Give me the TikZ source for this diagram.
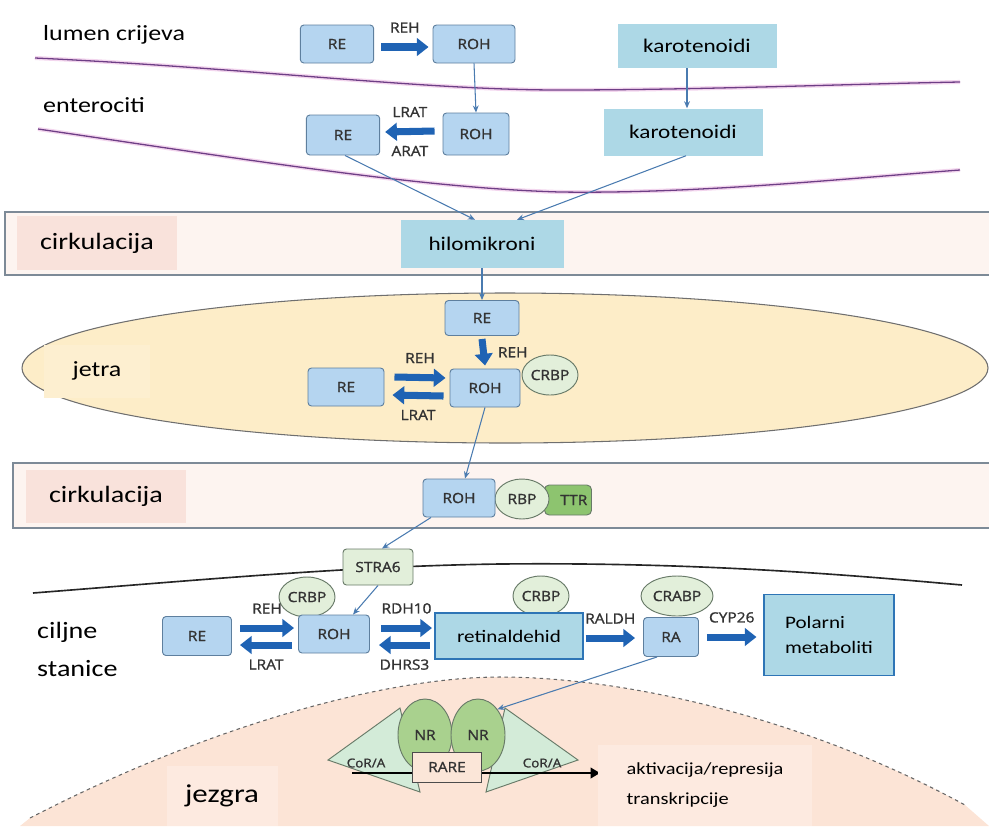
\documentclass[tikz,border=0pt]{standalone}
\usepackage{fontspec}
\setmainfont{Carlito}[FakeStretch=1.2]
\newfontfamily\tagfont{Open Sans}[FakeStretch=1.1, FakeBold=1.3]
\usepackage{tikz}
\usetikzlibrary{calc,positioning,shapes.geometric,arrows.meta}
\definecolor{gutline}{HTML}{6E3E86}
\definecolor{gutglow}{HTML}{F3D6EE}
\definecolor{boxfill}{HTML}{B5D5F0}
\definecolor{boxline}{HTML}{5E7F9E}
\definecolor{infofill}{HTML}{ADD8E6}
\definecolor{infoline}{HTML}{2E75B6}
\definecolor{fatblue}{HTML}{1F63B4}
\definecolor{linkblue}{HTML}{4A7BB0}
\definecolor{tagtext}{HTML}{333333}
\definecolor{protfill}{HTML}{E2EFDA}
\definecolor{protline}{HTML}{687A68}
\definecolor{ttrfill}{HTML}{8DC46F}
\definecolor{bandfill}{HTML}{FDF4F0}
\definecolor{bandline}{HTML}{7D8A97}
\definecolor{bandlbl}{HTML}{F9E2DB}
\definecolor{liverfill}{HTML}{FDEDC8}
\definecolor{liverlbl}{HTML}{FDEFD0}
\definecolor{liverline}{HTML}{6F6F6F}
\definecolor{nucfill}{HTML}{FCE4D6}
\definecolor{nuclbl}{HTML}{FDEAE0}
\definecolor{nrfill}{HTML}{A9D18E}
\definecolor{corfill}{HTML}{D3EBD8}
\definecolor{rarefill}{HTML}{FBE6D8}
\tikzstyle{RetBox} = [rectangle, draw=boxline, fill=boxfill, rounded corners=3pt,
    line width=0.8pt, minimum width=2.16cm, minimum height=1.14cm,
    font=\tagfont\fontsize{12}{14}\selectfont, text=tagtext]
\tikzstyle{InfoBox} = [rectangle, fill=infofill, font=\fontsize{16.5}{20}\selectfont]
\tikzstyle{Protein} = [ellipse, draw=protline, fill=protfill, line width=0.8pt,
    inner sep=0pt, minimum width=1.68cm, minimum height=1.2cm,
    font=\tagfont\fontsize{12}{14}\selectfont, text=tagtext]
\tikzstyle{Tag} = [font=\tagfont\fontsize{12}{14}\selectfont, text=tagtext]
\tikzstyle{Region} = [inner xsep=0pt, font=\fontsize{18.5}{22}\selectfont]
\tikzstyle{BandLabel} = [rectangle, fill=bandlbl, minimum width=4.8cm,
    minimum height=1.6cm, font=\fontsize{20}{24}\selectfont]
\tikzstyle{Band} = [draw=bandline, line width=1.2pt]
\tikzstyle{Gut} = [draw=gutline, line width=1.1pt,
    preaction={draw=gutglow, line width=3.5pt}]
\tikzstyle{arrow} = [linkblue, line width=0.9pt, -{Stealth[length=6pt,width=5pt]}]
\tikzstyle{fatarrow} = [fatblue, line width=6pt, -{Triangle[length=10pt,width=15pt]}]

\begin{document}
\begin{tikzpicture}[x=0.03cm, y=-0.03cm]
    \useasboundingbox (0,0) rectangle (989,826);
    % gut
    \draw[Gut] (35,58) .. controls (250,68) and (420,90) .. (560,90) .. controls (700,90) and (850,84) .. (960,82); %lumen wall
    \draw[Gut] (38,129) .. controls (250,160) and (420,188) .. (560,192) .. controls (700,194) and (850,178) .. (960,170); %enterocyte wall
    \node[Region, anchor=base west] (lumen) at (43,40) {lumen crijeva};
    \node[Region, anchor=base west] (entero) at (43,112) {enterociti};

    \node[RetBox, minimum width=2.2cm] (reA) at (337,44) {RE};
    \node[RetBox, minimum width=2.46cm] (rohA) at (474,44) {ROH};
    \node[RetBox, minimum width=1.98cm, minimum height=1.26cm] (rohB) at (476,134) {ROH};
    \node[RetBox, minimum width=2.2cm, minimum height=1.2cm] (reB) at (343,135) {RE};
    \node[InfoBox, minimum width=4.77cm, minimum height=1.32cm] (karA) at (697,46) {karotenoidi};
    \node[InfoBox, minimum width=4.77cm, minimum height=1.41cm] (karB) at (683,132) {karotenoidi};

    \draw[fatarrow] ($(reA.east)+(7,3)$) -- ($(rohA.west)+(-4,3)$) node[midway, above=6pt, Tag] {REH};
    \draw[fatarrow] ($(rohB.west)+(-8,-3)$) -- ($(reB.east)+(5,-3)$)
        node[midway, above=6pt, Tag] {LRAT} node[midway, below=6pt, Tag] {ARAT};
    \draw[arrow] (rohA.south) -- (rohB.north);
    \draw[arrow] ($(karA.south)+(-10,0)$) -- ($(karB.north)+(4,0)$);

    % first circulation
    \fill[bandfill] (5,212) rectangle (989,275);
    \draw[Band] (989,212) -- (5,212) -- (5,275) -- (989,275);
    \node[BandLabel, minimum width=4.8cm, minimum height=1.6cm] (circA) at (97,243) {cirkulacija};
    \node[InfoBox, minimum width=4.89cm, minimum height=1.44cm] (hilo) at (482,244) {hilomikroni};
    \draw[arrow] ($(reB.south)+(2,0)$) -- ($(hilo.north)+(-7,0)$);
    \draw[arrow] ($(karB.south)+(3,0)$) -- ($(hilo.north)+(35,0)$);

    % liver
    \draw[draw=liverline, fill=liverfill, line width=0.9pt] (505,368) ellipse [x radius=483, y radius=75];
    \node[rectangle, fill=liverlbl, minimum width=3.15cm, minimum height=1.59cm, font=\fontsize{18.5}{22}\selectfont] (jetra) at (97,371) {jetra};
    \node[RetBox, minimum width=2.22cm, minimum height=1.05cm] (reC) at (482,318) {RE};
    \node[Protein] (crbpA) at (550,375) {CRBP};
    \node[RetBox, minimum width=2.1cm] (rohC) at (485,388) {ROH};
    \node[RetBox, minimum width=2.28cm] (reD) at (346,387) {RE};
    \draw[arrow] (hilo.south) -- (reC.north);
    \draw[fatarrow] ($(reC.south)+(0,3)$) -- ($(rohC.north)+(0,-3)$) node[midway, right=6pt, Tag] {REH};
    \draw[fatarrow] ($(reD.east)+(10,-10)$) -- ($(rohC.west)+(-4,-10)$) node[midway, above=6pt, Tag] {REH};
    \draw[fatarrow] ($(rohC.west)+(-6,8)$) -- ($(reD.east)+(8,8)$) node[midway, below=6pt, Tag] {LRAT};

    % second circulation
    \fill[bandfill] (13,463) rectangle (989,528);
    \draw[Band] (989,463) -- (13,463) -- (13,528) -- (989,528);
    \node[BandLabel, minimum width=4.77cm, minimum height=1.59cm] (circB) at (106,496) {cirkulacija};
    \node[rectangle, draw=protline, fill=ttrfill, rounded corners=4pt, line width=0.8pt,
        minimum width=1.41cm, minimum height=0.9cm, align=right, Tag] (ttr) at (568,500) {\hspace{0.35cm}TTR};
    \node[Protein, minimum width=1.62cm] (rbp) at (522,499) {RBP};
    \node[RetBox] (rohD) at (459,498) {ROH};
    \draw[arrow] (rohC.south) -- ($(rohD.north)+(6,0)$);

    % target cells
    \draw[black!85, line width=1.4pt] (33,593) .. controls (200,580) and (350,566) .. (500,564) .. controls (700,562) and (850,575) .. (962,585); %cell membrane
    \node[Region, anchor=base west, font=\fontsize{20}{24}\selectfont] (ciljne) at (37,638) {ciljne};
    \node[Region, anchor=base west, font=\fontsize{20}{24}\selectfont] (stanice) at (37,676) {stanice};
    \node[rectangle, draw=protline, fill=protfill, rounded corners=3pt, line width=0.8pt,
        minimum width=2.1cm, minimum height=1.08cm, Tag] (stra) at (378,567) {STRA6};
    \draw[arrow] ($(rohD.south)+(-28,0)$) -- ($(stra.north)+(4,0)$);
    \node[Protein] (crbpB) at (307,597) {CRBP};
    \node[Protein] (crbpC) at (541,596) {CRBP};
    \node[Protein, minimum width=2.16cm] (crabp) at (677,596) {CRABP};
    \node[RetBox, minimum width=2.13cm] (rohE) at (334,634) {ROH};
    \node[RetBox, minimum width=2.07cm, minimum height=1.17cm] (reE) at (197,636) {RE};
    \node[RetBox, minimum width=1.65cm, minimum height=1.17cm] (raA) at (671,637) {RA};
    \draw[arrow] (stra.south) -- ($(rohE.north)+(19,0)$);

    \draw[fatarrow] ($(reE.east)+(8,-8)$) -- ($(rohE.west)+(-4,-6)$) node[midway, above=6pt, Tag] {REH};
    \draw[fatarrow] ($(rohE.west)+(-6,11)$) -- ($(reE.east)+(8,9)$) node[midway, below=6pt, Tag] {LRAT};
    \draw[fatarrow] ($(rohE.east)+(11,-6)$) -- ($(rohE.east)+(62,-6)$) node[midway, above=6pt, Tag] {RDH10};
    \draw[fatarrow] ($(rohE.east)+(60,11)$) -- ($(rohE.east)+(9,11)$) node[midway, below=6pt, Tag] {DHRS3};
    \node[InfoBox, draw=infoline, line width=0.9pt, minimum width=4.44cm, minimum height=1.38cm, font=\fontsize{15}{18}\selectfont] (retn) at (509,636) {retinaldehid};
    \draw[fatarrow] ($(retn.east)+(2,2)$) -- ($(raA.west)+(-8,1)$) node[midway, above=6pt, Tag] {RALDH};
    \node[InfoBox, draw=infoline, line width=0.9pt, minimum width=3.9cm, minimum height=2.43cm,
        align=left, font=\fontsize{15}{22}\selectfont] (pol) at (829,635) {Polarni\\metaboliti};
    \draw[fatarrow] ($(raA.east)+(8,0)$) -- ($(pol.west)+(-7,2)$) node[midway, above=6pt, Tag] {CYP26};

    % nucleus
    \fill[nucfill] (30,818) .. controls (200,730) and (380,677) .. (500,677) .. controls (620,677) and (800,715) .. (965,805) -- (989,826) -- (20,826) -- cycle;
    \draw[gray!80!black, dashed, line width=0.9pt] (30,818) .. controls (200,730) and (380,677) .. (500,677) .. controls (620,677) and (800,715) .. (965,805); %nuclear envelope
    \draw[draw=protline, fill=corfill, line width=0.8pt] (328,760) -- (400,708) -- (420,792) -- cycle; %left CoR/A
    \draw[draw=protline, fill=corfill, line width=0.8pt] (578,760) -- (505,708) -- (486,792) -- cycle; %right CoR/A
    \node[Tag, font=\tagfont\fontsize{10.5}{12}\selectfont] (corA) at (366,763) {CoR/A};
    \node[Tag, font=\tagfont\fontsize{10.5}{12}\selectfont] (corB) at (542,763) {CoR/A};
    \node[ellipse, draw=protline, fill=nrfill, line width=0.8pt, minimum width=1.62cm, minimum height=2.16cm, Tag] (nrA) at (425,735) {NR};
    \node[ellipse, draw=protline, fill=nrfill, line width=0.8pt, minimum width=1.62cm, minimum height=2.16cm, Tag] (nrB) at (478,735) {NR};
    \coordinate (dnaA) at (352,773);
    \coordinate (dnaB) at (600,773);
    \draw[black, line width=1.8pt, -{Triangle[length=8pt,width=9pt]}] (dnaA) -- (dnaB);
    \node[rectangle, draw=black!70, fill=rarefill, line width=0.8pt, minimum width=2.07cm, minimum height=0.9cm, Tag] (rare) at (447,767) {RARE};
    \draw[arrow] ($(raA.south)+(-14,0)$) -- (nrB.north east);
    \node[rectangle, fill=nuclbl, minimum width=3.33cm, minimum height=1.8cm, font=\fontsize{22}{26}\selectfont] (jezgra) at (222,796) {jezgra};
    \node[rectangle, fill=nuclbl, minimum width=6.42cm, minimum height=2.43cm, align=left,
        font=\fontsize{14.5}{25}\selectfont] (akt) at (705,785) {aktivacija/represija\\transkripcije};
\end{tikzpicture}
\end{document}
